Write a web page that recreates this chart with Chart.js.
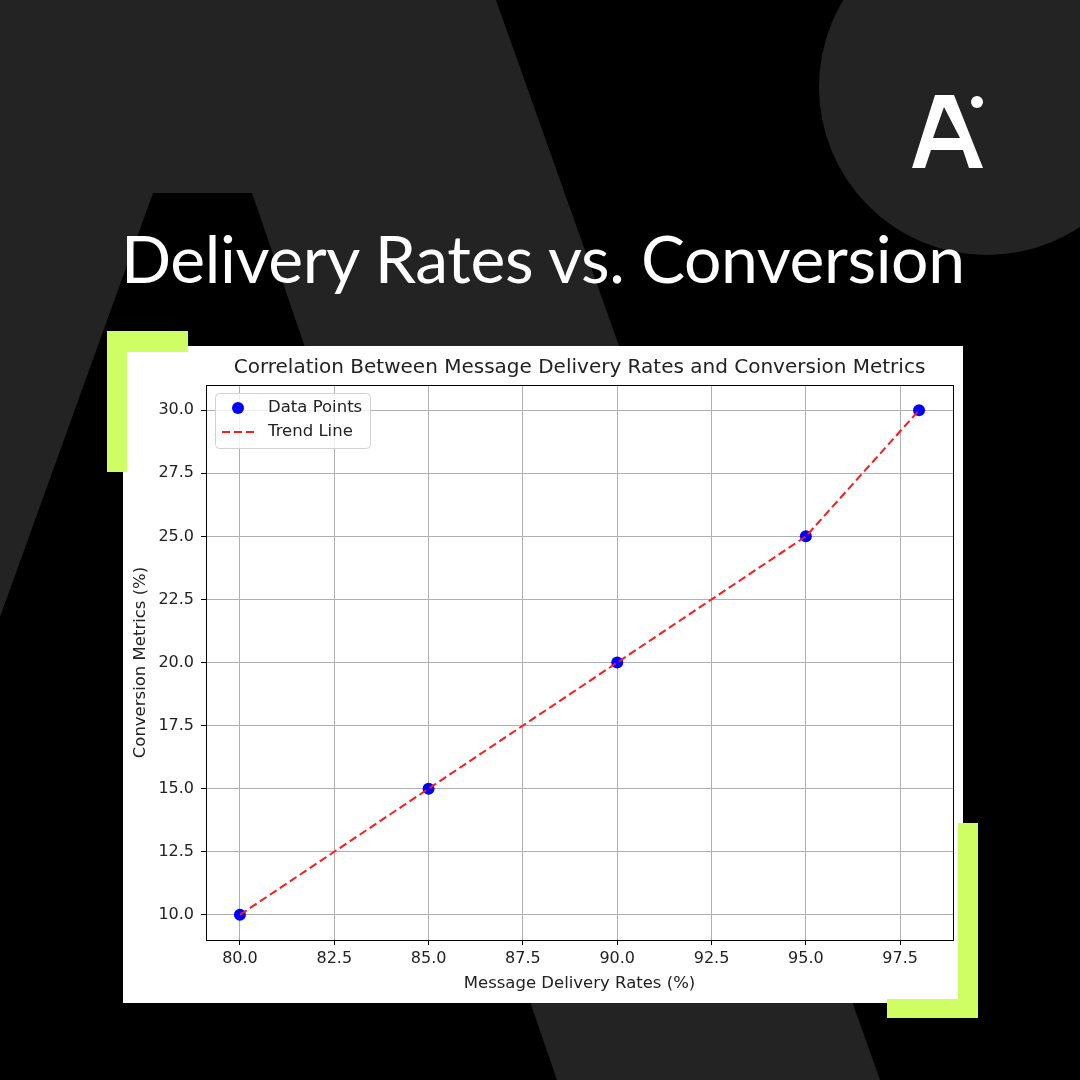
<!DOCTYPE html>
<html lang="en">
<head>
  <meta charset="UTF-8">
  <title>Delivery Rates vs. Conversion</title>
  <script src="https://cdn.jsdelivr.net/npm/chart.js"></script>
  <style>
    body { margin: 0; background: #000; }
    #page { position: relative; width: 1080px; height: 1080px; overflow: hidden; background: #000; }
    #page svg { position: absolute; left: 0; top: 0; }
    #panel { position: absolute; left: 123px; top: 346px; width: 840px; height: 657px; background: #fff; }
  </style>
</head>
<body>
<div id="page">
  <svg width="1080" height="1080">
    <polygon fill="#232323" points="0,0 496,0 880,1080 557,1080 252,193 153,193 0,617"/>
    <circle cx="987" cy="87" r="168" fill="#232323"/>
    <path fill="#fff" fill-rule="evenodd"
      d="M935,95 L954,95 L983,168 L969,168 L963,150 L931,150 L925,168 L912,168 Z M944,107 L933,138 L960,138 Z"/>
    <circle cx="977" cy="102" r="6" fill="#fff"/>
    <text x="121" y="283" fill="#fff" font-family="Lato" font-size="66" textLength="844" lengthAdjust="spacing">Delivery Rates vs. Conversion</text>
  </svg>

  <div id="panel">
    <canvas id="corrChart" width="840" height="657"></canvas>
  </div>

  <svg width="1080" height="1080" style="pointer-events:none">
    <path fill="#cefe64" d="M107,331 L188,331 L188,352 L127,352 L127,472 L107,472 Z"/>
    <path fill="#cefe64" d="M958,823 L978,823 L978,1018 L887,1018 L887,999 L958,999 Z"/>
  </svg>
</div>

<script>
  // values
  const deliveryRates = [80, 85, 90, 95, 98];
  const conversionRates = [10, 15, 20, 25, 30];
  const trendX = [80, 85, 90, 95, 98];
  const trendY = [10, 15, 20, 25, 30];
  const xTicks = [80, 82.5, 85, 87.5, 90, 92.5, 95, 97.5];
  const yTicks = [10, 12.5, 15, 17.5, 20, 22.5, 25, 27.5, 30];

  const tickFont = { family: 'DejaVu Sans', size: 16 };
  const labelFont = { family: 'DejaVu Sans', size: 16.5 };
  const textColor = '#222';

  // top/right spines plus the boxed legend inside the plot
  const frameAndLegend = {
    id: 'frameAndLegend',
    afterDraw(chart) {
      const ctx = chart.ctx;
      const ca = chart.chartArea;
      ctx.save();
      ctx.strokeStyle = '#000';
      ctx.lineWidth = 1;
      ctx.strokeRect(Math.round(ca.left) + 0.5, Math.round(ca.top) + 0.5,
        Math.round(ca.right - ca.left), Math.round(ca.bottom - ca.top));

      const bx = ca.left + 9, by = ca.top + 8, bw = 155, bh = 55;
      ctx.beginPath();
      ctx.roundRect(bx + 0.5, by + 0.5, bw, bh, 4);
      ctx.fillStyle = 'rgba(255,255,255,0.8)';
      ctx.fill();
      ctx.strokeStyle = '#d0d0d0';
      ctx.stroke();

      const ds = chart.data.datasets;
      ctx.font = '16.5px "DejaVu Sans"';
      ctx.textBaseline = 'middle';
      ctx.textAlign = 'left';

      // scatter entry
      ctx.beginPath();
      ctx.arc(ca.left + 32, ca.top + 23, 6, 0, Math.PI * 2);
      ctx.fillStyle = ds[0].backgroundColor;
      ctx.fill();
      ctx.fillStyle = textColor;
      ctx.fillText(ds[0].label, ca.left + 62, ca.top + 23);

      // line entry
      ctx.beginPath();
      ctx.setLineDash(ds[1].borderDash);
      ctx.strokeStyle = ds[1].borderColor;
      ctx.lineWidth = ds[1].borderWidth;
      ctx.moveTo(ca.left + 16, ca.top + 47);
      ctx.lineTo(ca.left + 50, ca.top + 47);
      ctx.stroke();
      ctx.setLineDash([]);
      ctx.fillText(ds[1].label, ca.left + 62, ca.top + 47);
      ctx.restore();
    }
  };

  new Chart(document.getElementById('corrChart'), {
    type: 'scatter',
    data: {
      datasets: [{
        label: 'Data Points',
        data: deliveryRates.map((x, i) => ({ x: x, y: conversionRates[i] })),
        backgroundColor: '#0000ff',
        borderWidth: 0,
        pointRadius: 6,
        order: 1
      }, {
        label: 'Trend Line',
        data: trendX.map((x, i) => ({ x: x, y: trendY[i] })),
        showLine: true,
        borderColor: '#ff1a1a',
        borderWidth: 2,
        borderDash: [8, 4],
        pointRadius: 0,
        tension: 0,
        order: 0
      }]
    },
    options: {
      responsive: false,
      animation: false,
      events: [],
      layout: { padding: { left: 0, right: 10, top: 0, bottom: 0 } },
      plugins: {
        legend: { display: false },
        tooltip: { enabled: false },
        title: {
          display: true,
          fullSize: false,
          text: 'Correlation Between Message Delivery Rates and Conversion Metrics',
          color: textColor,
          font: { family: 'DejaVu Sans', size: 20, weight: 'normal' },
          padding: { top: 10, bottom: 5 }
        }
      },
      scales: {
        x: {
          type: 'linear',
          min: 79.1,
          max: 98.9,
          afterFit: s => { s.height = 63; },
          afterBuildTicks: s => { s.ticks = xTicks.map(v => ({ value: v })); },
          ticks: { font: tickFont, color: textColor, padding: 4, callback: v => v.toFixed(1) },
          grid: { color: '#b0b0b0', lineWidth: 1, tickColor: '#000', tickLength: 5 },
          border: { display: true, color: '#000', width: 1 },
          title: { display: true, text: 'Message Delivery Rates (%)', color: textColor, font: labelFont, padding: { top: 0, bottom: 9 } }
        },
        y: {
          type: 'linear',
          min: 9,
          max: 31,
          afterFit: s => { s.width = 83; },
          afterBuildTicks: s => { s.ticks = yTicks.map(v => ({ value: v })); },
          ticks: { font: tickFont, color: textColor, padding: 7, callback: v => v.toFixed(1) },
          grid: { color: '#b0b0b0', lineWidth: 1, tickColor: '#000', tickLength: 5 },
          border: { display: true, color: '#000', width: 1 },
          title: { display: true, text: 'Conversion Metrics (%)', color: textColor, font: labelFont, padding: { top: 8, bottom: 0 } }
        }
      }
    },
    plugins: [frameAndLegend]
  });
</script>
</body>
</html>
